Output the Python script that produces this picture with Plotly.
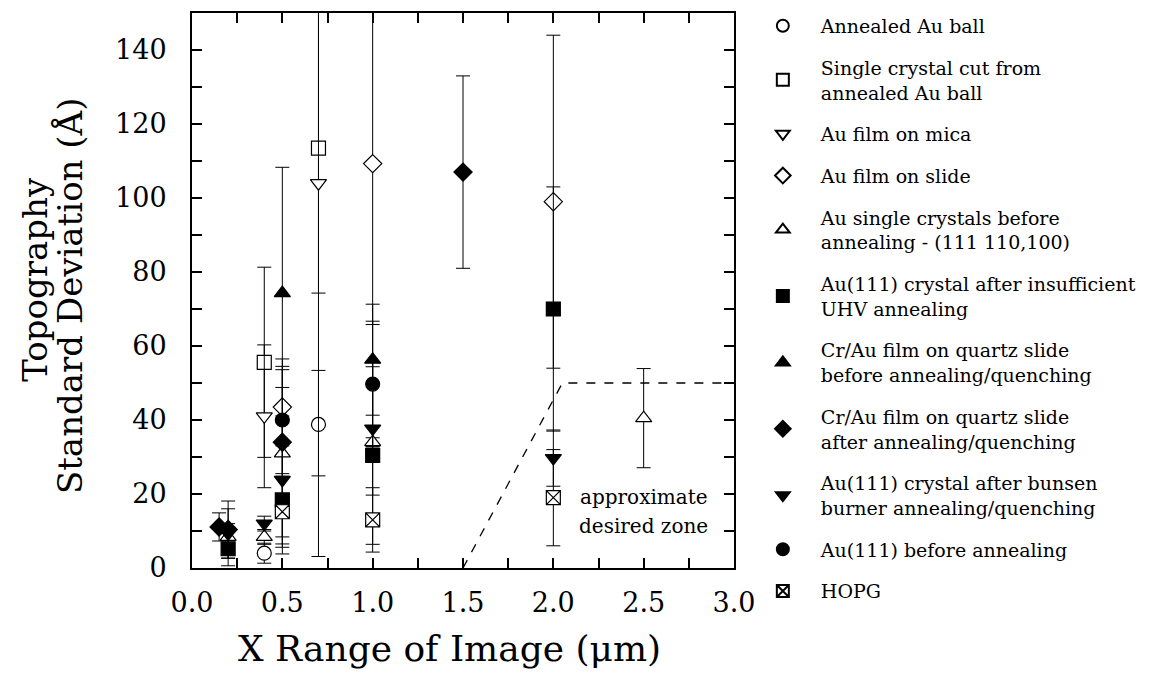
import plotly.graph_objects as go

FONT = "DejaVu Serif"

# ---------------- data ----------------
names = [
    "Annealed Au ball",
    "Single crystal cut from<br>annealed Au ball",
    "Au film on mica",
    "Au film on slide",
    "Au single crystals before<br>annealing - (111 110,100)",
    "Au(111) crystal after insufficient<br>UHV annealing",
    "Cr/Au film on quartz slide<br>before annealing/quenching",
    "Cr/Au film on quartz slide<br>after annealing/quenching",
    "Au(111) crystal after bunsen<br>burner annealing/quenching",
    "Au(111) before annealing",
    "HOPG",
]

ball_x = [0.4, 0.7]
ball_y = [4.0, 38.8]
ball_ep = [2.7, 14.6]
ball_em = [2.7, 13.9]

cut_x = [0.4, 0.7]
cut_y = [55.6, 113.5]
cut_ep = [25.7, 110.4]
cut_em = [25.7, 110.4]

mica_x = [0.4, 0.7]
mica_y = [41.0, 104.0]
mica_ep = [19.3, 50.0]
mica_em = [19.3, 29.7]

slide_x = [0.5, 1.0, 2.0]
slide_y = [43.5, 109.3, 99.0]
slide_ep = [13.0, 43.5, 45.0]
slide_em = [13.0, 43.5, 45.0]

single_x = [0.2, 0.4, 0.5, 1.0, 2.5]
single_y = [8.4, 8.4, 31.0, 34.0, 40.5]
single_ep = [3.6, 2.0, 22.6, 1.2, 13.4]
single_em = [3.6, 2.0, 22.6, 1.2, 13.4]

uhv_x = [0.2, 0.5, 1.0, 2.0]
uhv_y = [5.2, 18.4, 30.4, 70.0]
uhv_ep = [4.6, 14.6, 24.0, 33.0]
uhv_em = [4.6, 14.6, 24.0, 33.0]

crb_x = [0.5, 1.0]
crb_y = [74.3, 56.3]
crb_ep = [34.0, 15.0]
crb_em = [34.0, 15.0]

cra_x = [0.15, 0.2, 0.5, 1.5]
cra_y = [11.1, 10.4, 34.0, 107.0]
cra_ep = [3.8, 7.7, 14.8, 26.0]
cra_em = [3.8, 7.7, 14.8, 26.0]

bun_x = [0.2, 0.4, 0.5, 1.0, 2.0]
bun_y = [9.3, 12.0, 23.8, 37.7, 29.7]
bun_ep = [6.7, 2.0, 17.3, 18.0, 7.6]
bun_em = [6.7, 2.0, 17.3, 18.0, 7.6]

bef_x = [0.5, 1.0]
bef_y = [40.0, 49.7]
bef_ep = [14.5, 17.0]
bef_em = [14.5, 17.0]

hopg_x = [0.5, 1.0, 2.0]
hopg_y = [15.2, 13.0, 19.0]
hopg_ep = [9.6, 8.7, 13.0]
hopg_em = [9.6, 8.7, 13.0]

zone_x = [1.5, 2.05, 3.0]
zone_y = [0.0, 50.0, 50.0]

x_ticks = [0.0, 0.5, 1.0, 1.5, 2.0, 2.5, 3.0]
y_ticks = [0, 20, 40, 60, 80, 100, 120, 140]

series = [
    (ball_x, ball_y, ball_ep, ball_em, "circle", "white"),
    (cut_x, cut_y, cut_ep, cut_em, "square", "white"),
    (mica_x, mica_y, mica_ep, mica_em, "triangle-down", "white"),
    (slide_x, slide_y, slide_ep, slide_em, "diamond", "white"),
    (single_x, single_y, single_ep, single_em, "triangle-up", "white"),
    (uhv_x, uhv_y, uhv_ep, uhv_em, "square", "black"),
    (crb_x, crb_y, crb_ep, crb_em, "triangle-up", "black"),
    (cra_x, cra_y, cra_ep, cra_em, "diamond", "black"),
    (bun_x, bun_y, bun_ep, bun_em, "triangle-down", "black"),
    (bef_x, bef_y, bef_ep, bef_em, "circle", "black"),
    (hopg_x, hopg_y, hopg_ep, hopg_em, "square-x", "white"),
]

fig = go.Figure()

fig.add_trace(go.Scatter(
    x=zone_x, y=zone_y, mode="lines",
    line=dict(color="black", width=1.3, dash="dash"),
    showlegend=False, hoverinfo="skip",
))

for i, (sx, sy, ep, em, sym, fill) in enumerate(series):
    fig.add_trace(go.Scatter(
        x=sx, y=sy, mode="markers", name=names[i],
        legendgroup=f"g{i}",
        marker=dict(symbol=sym, size=14, color=fill,
                    line=dict(color="black", width=1.2)),
        error_y=dict(type="data", symmetric=False, array=ep, arrayminus=em,
                     color="black", thickness=1, width=7),
    ))

fig.add_annotation(x=2.5, y=19.2, xref="x", yref="y", text="approximate",
                   showarrow=False, font=dict(family=FONT, size=20, color="black"))
fig.add_annotation(x=2.5, y=11.4, xref="x", yref="y", text="desired zone",
                   showarrow=False, font=dict(family=FONT, size=20, color="black"))

fig.add_annotation(x=-0.289, y=0.52, xref="paper", yref="paper", text="Topography",
                   textangle=-90, showarrow=False, xanchor="center", yanchor="middle",
                   font=dict(family=FONT, size=34, color="black"))
fig.add_annotation(x=-0.225, y=0.49, xref="paper", yref="paper",
                   text="Standard Deviation (Å)",
                   textangle=-90, showarrow=False, xanchor="center", yanchor="middle",
                   font=dict(family=FONT, size=34, color="black"))
fig.add_annotation(x=0.475, y=-0.145, xref="paper", yref="paper",
                   text="X Range of Image (μm)", showarrow=False,
                   xanchor="center", yanchor="middle",
                   font=dict(family=FONT, size=36, color="black"))

axis_common = dict(
    showgrid=False, zeroline=False, showline=True, linecolor="black",
    linewidth=2, mirror="ticks", ticks="inside", ticklen=10, tickwidth=1.5,
    tickcolor="black", tickfont=dict(family=FONT, size=27, color="black"),
)

fig.update_xaxes(range=[0, 3.0], tickvals=x_ticks,
                 ticktext=[f"{v:.1f}" for v in x_ticks],
                 minor=dict(dtick=0.25, tick0=0, ticks="inside", ticklen=10,
                            tickwidth=1.5, tickcolor="black"),
                 ticklabelstandoff=10, **axis_common)
fig.update_yaxes(range=[0, 150], tickvals=y_ticks,
                 minor=dict(dtick=10, tick0=0, ticks="inside", ticklen=10,
                            tickwidth=1.5, tickcolor="black"),
                 ticklabelstandoff=18, **axis_common)

fig.update_layout(
    width=1163, height=666,
    margin=dict(l=184, r=437, t=5, b=106, autoexpand=False),
    plot_bgcolor="white", paper_bgcolor="white",
    font=dict(family=FONT, color="black"),
    legend=dict(x=1.02, xanchor="left", y=1.011, yanchor="top",
                font=dict(family=FONT, size=19, color="black"),
                itemwidth=66, itemsizing="constant", tracegroupgap=14,
                maxheight=660,
                bgcolor="rgba(0,0,0,0)", traceorder="grouped"),
)

fig.write_html("out.html")
